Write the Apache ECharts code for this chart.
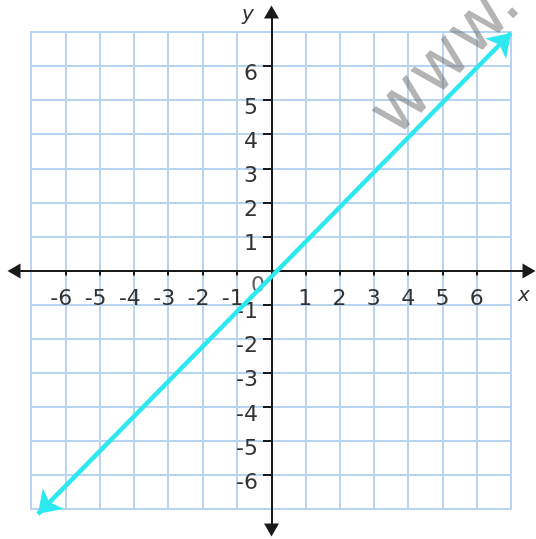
<!DOCTYPE html>
<html>
<head>
<meta charset="utf-8">
<script src="https://cdn.jsdelivr.net/npm/echarts@6/dist/echarts.min.js"></script>
<style>
  html, body { margin: 0; padding: 0; background: #fff; }
  #chart { width: 536px; height: 539px; }
</style>
</head>
<body>
<div id="chart"></div>
<script>
// axis ranges and tick labels
var axisMin = -7;
var axisMax = 7;
var xTickValues = [-6, -5, -4, -3, -2, -1, 1, 2, 3, 4, 5, 6];
var yTickValues = [-6, -5, -4, -3, -2, -1, 1, 2, 3, 4, 5, 6];
// the graphed line y = x, with its two arrow ends
var linePoints = [[-6.8, -7.15], [7.0, 6.97]];
var originLabel = [[0, 0]];

var font = "DejaVu Sans";
var gridColor = "#b9d4f0";
var axisColor = "#1a1a1a";

var chart = echarts.init(document.getElementById("chart"));

var option = {
  animation: false,
  grid: [
    // graph paper, its border is the outer grid line
    {
      left: 31, right: 25, top: 32, bottom: 30,
      containLabel: false, outerBoundsMode: "none",
      show: true, borderColor: gridColor, borderWidth: 2
    },
    // long axes with arrows
    { left: 14, right: 7, top: 12, bottom: 9, containLabel: false, outerBoundsMode: "none" }
  ],
  xAxis: [
    {
      type: "value",
      gridIndex: 0,
      position: "bottom",
      offset: -238.5, // move ticks and labels up to y = 0
      min: axisMin,
      max: axisMax,
      interval: 1,
      axisLine: { show: false, onZero: false },
      axisTick: {
        show: true,
        length: 5,
        customValues: xTickValues,
        lineStyle: { color: axisColor, width: 2 }
      },
      axisLabel: {
        margin: 18,
        customValues: xTickValues,
        formatter: function(v) {
          return "{a|" + v + "}";
        },
        rich: {
          a: { width: 14, align: "right", fontSize: 22, fontFamily: font, color: "#333" }
        }
      },
      splitLine: { show: true, lineStyle: { color: gridColor, width: 2 } }
    },
    {
      type: "value",
      gridIndex: 1,
      min: -7.5,
      max: 7.5,
      axisLine: {
        onZero: true,
        symbol: ["triangle", "triangle"],
        symbolSize: [15, 13],
        lineStyle: { color: axisColor, width: 2 }
      },
      axisTick: { show: false },
      axisLabel: { show: false },
      splitLine: { show: false }
    }
  ],
  yAxis: [
    {
      type: "value",
      gridIndex: 0,
      position: "left",
      offset: -240, // move ticks and labels right to x = 0
      min: axisMin,
      max: axisMax,
      interval: 1,
      axisLine: { show: false, onZero: false },
      axisTick: {
        show: true,
        length: 8,
        customValues: yTickValues,
        lineStyle: { color: axisColor, width: 2 }
      },
      axisLabel: {
        margin: 13,
        customValues: yTickValues,
        fontSize: 22,
        fontFamily: font,
        color: "#333",
        verticalAlign: "top",
        lineHeight: 16
      },
      splitLine: { show: true, lineStyle: { color: gridColor, width: 2 } }
    },
    {
      type: "value",
      gridIndex: 1,
      min: -7.6,
      max: 7.6,
      axisLine: {
        onZero: true,
        symbol: ["triangle", "triangle"],
        symbolSize: [15, 13],
        lineStyle: { color: axisColor, width: 2 }
      },
      axisTick: { show: false },
      axisLabel: { show: false },
      splitLine: { show: false }
    }
  ],
  series: [
    {
      type: "lines",
      coordinateSystem: "cartesian2d",
      xAxisIndex: 0,
      yAxisIndex: 0,
      clip: false,
      silent: true,
      z: 5,
      symbol: ["arrow", "arrow"],
      symbolSize: 22,
      lineStyle: { color: "#2ee8f0", width: 4.5, opacity: 1, curveness: 0 },
      data: [{ coords: linePoints }]
    },
    {
      type: "scatter",
      xAxisIndex: 0,
      yAxisIndex: 0,
      symbolSize: 1,
      silent: true,
      itemStyle: { color: "rgba(0,0,0,0)" },
      label: {
        show: true,
        position: "inside",
        offset: [-13, 16],
        formatter: "0",
        fontSize: 22,
        fontFamily: font,
        color: "#333"
      },
      data: originLabel
    }
  ],
  graphic: [
    {
      type: "text",
      x: 248,
      y: 15,
      style: {
        text: "y",
        fontSize: 20,
        fontStyle: "italic",
        fontFamily: font,
        fill: "#333",
        align: "center",
        verticalAlign: "middle"
      }
    },
    {
      type: "text",
      x: 524,
      y: 296,
      style: {
        text: "x",
        fontSize: 20,
        fontStyle: "italic",
        fontFamily: font,
        fill: "#333",
        align: "center",
        verticalAlign: "middle"
      }
    },
    {
      type: "text",
      x: 408,
      y: 150,
      rotation: 0.8,
      z: 100,
      style: {
        text: "www.",
        fontSize: 68,
        fontFamily: font,
        fill: "rgba(105,105,105,0.5)",
        align: "left",
        verticalAlign: "bottom"
      }
    }
  ]
};

chart.setOption(option);
</script>
</body>
</html>
